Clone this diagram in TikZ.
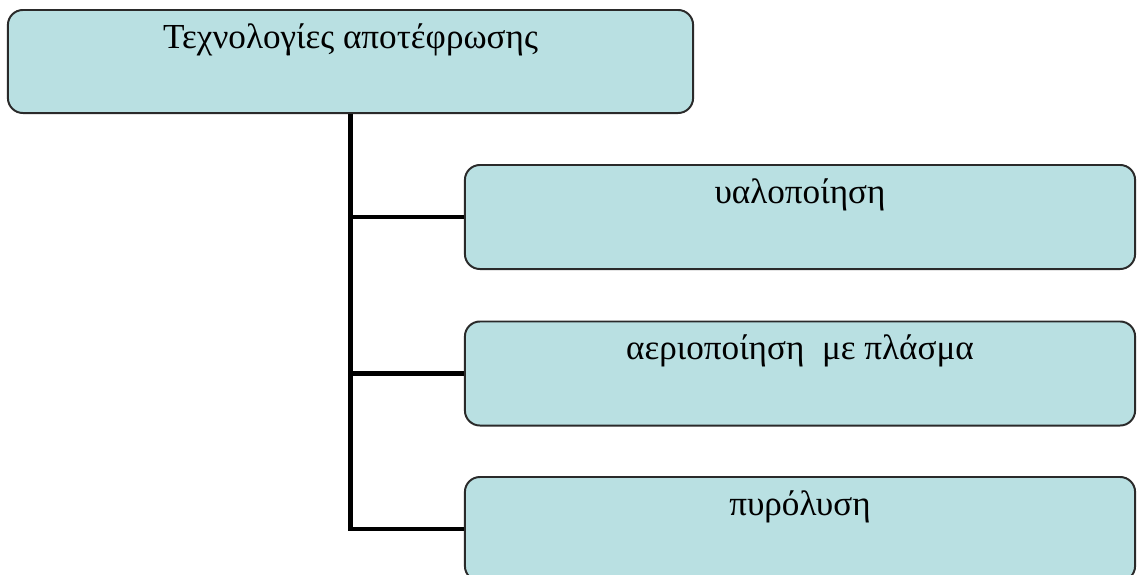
\documentclass[tikz,border=0pt]{standalone}
\usepackage{fontspec}
\setmainfont{Liberation Serif}
\usepackage{xcolor}
\usetikzlibrary{positioning}
\definecolor{boxfill}{HTML}{B9E0E2}
\definecolor{boxline}{HTML}{2A2A2A}

\begin{document}
\begin{tikzpicture}[x=0.025cm, y=-0.025cm, font=\fontsize{25}{30}\selectfont]
    \tikzstyle{techbox} = [rectangle, rounded corners=0.375cm, fill=boxfill, draw=boxline,
      line width=1.4pt, inner xsep=0pt, inner ysep=0pt, text height=0.95cm, align=center]
    \tikzstyle{link} = [line width=3.2pt, black]

    \useasboundingbox (0,0) rectangle (1138,574);

    \node (tech)  [techbox, minimum width=17.125cm, text depth=1.625cm] at (350.5,61.5) {Τεχνολογίες αποτέφρωσης};
    \node (glass) [techbox, minimum width=16.75cm, text depth=1.65cm] at (800,217) {υαλοποίηση};
    \node (plasma)[techbox, minimum width=16.75cm, text depth=1.65cm] at (800,373.5) {αεριοποίηση\ \ με πλάσμα};
    \node (pyro)  [techbox, minimum width=16.75cm, text depth=1.65cm] at (800,529) {πυρόλυση};

    \draw [link] (tech.south) |- (glass.west);
    \draw [link] (tech.south) |- (plasma.west);
    \draw [link] (tech.south) |- (pyro.west);
\end{tikzpicture}
\end{document}
